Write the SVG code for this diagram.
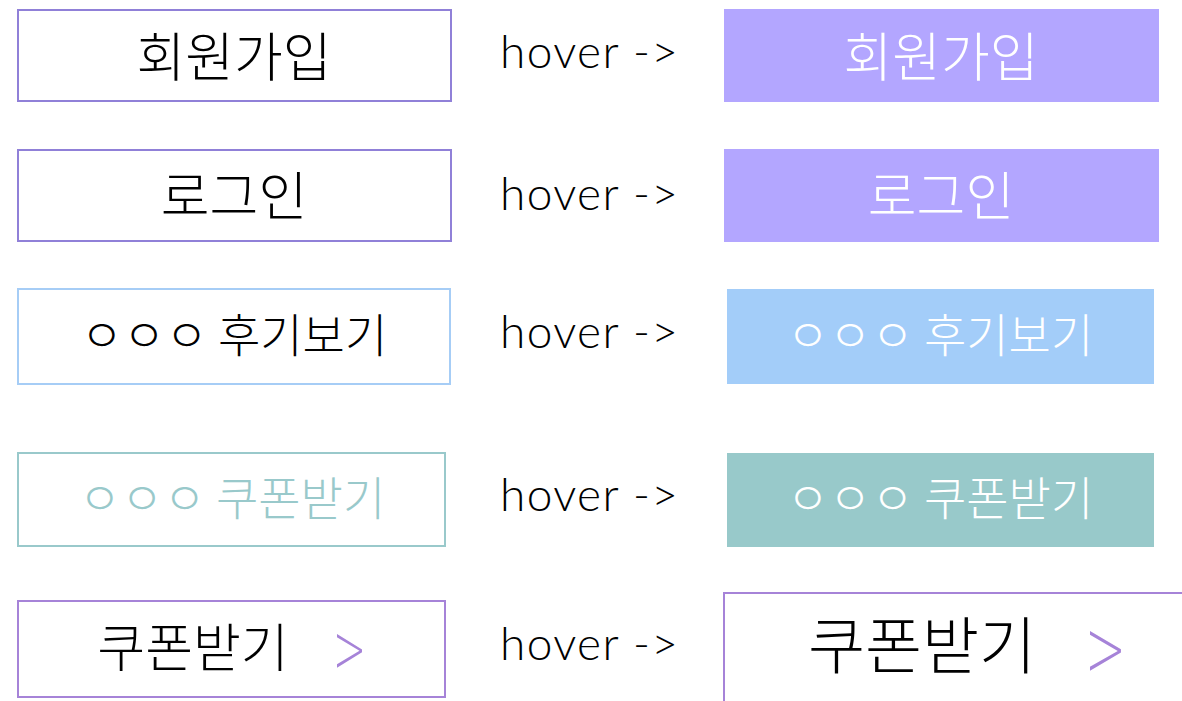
<svg xmlns="http://www.w3.org/2000/svg" width="1182" height="701" viewBox="0 0 1182 701">
<style>
.ko{font-family:"Noto Sans CJK KR","Noto Sans",sans-serif;font-weight:300;text-anchor:middle}
.hv{font-family:Lato,"Liberation Sans",sans-serif;font-weight:300;font-size:46px;fill:#000}
.gt{font-family:"DejaVu Sans",sans-serif;font-weight:200;fill:#a683d8;text-anchor:middle}
.box{fill:#fff;stroke-width:2}
</style>
<rect width="1182" height="701" fill="#fff"/>
<g id="row1-normal">
<rect class="box" x="18" y="10" width="433" height="91" stroke="#9080d8"/>
<text class="ko" x="234" y="77" font-size="53" fill="#000">회원가입</text>
</g>
<g id="row1-hover">
<rect x="724" y="9" width="435" height="93" fill="#b3a6ff"/>
<text class="ko" x="941" y="77" font-size="53" fill="#fff">회원가입</text>
</g>
<g id="row2-normal">
<rect class="box" x="18" y="150" width="433" height="91" stroke="#9080d8"/>
<text class="ko" x="234" y="216" font-size="53" fill="#000">로그인</text>
</g>
<g id="row2-hover">
<rect x="724" y="149" width="435" height="93" fill="#b3a6ff"/>
<text class="ko" x="941" y="216" font-size="53" fill="#fff">로그인</text>
</g>
<g id="row3-normal">
<rect class="box" x="18" y="289" width="432" height="95" stroke="#a6cdf6"/>
<text class="ko" x="234" y="352" font-size="46" fill="#000">ㅇㅇㅇ 후기보기</text>
</g>
<g id="row3-hover">
<rect x="727" y="289" width="427" height="95" fill="#a3cdf9"/>
<text class="ko" x="940" y="352" font-size="46" fill="#fff">ㅇㅇㅇ 후기보기</text>
</g>
<g id="row4-normal">
<rect class="box" x="18" y="453" width="427" height="93" stroke="#99c9cb"/>
<text class="ko" x="232" y="515" font-size="46" fill="#99c9cb">ㅇㅇㅇ 쿠폰받기</text>
</g>
<g id="row4-hover">
<rect x="727" y="453" width="427" height="94" fill="#98c9ca"/>
<text class="ko" x="940" y="515" font-size="46" fill="#fff">ㅇㅇㅇ 쿠폰받기</text>
</g>
<g id="row5-normal">
<rect class="box" x="18" y="601" width="427" height="96" stroke="#a683d8"/>
<text class="ko" x="193" y="667" font-size="52" fill="#000">쿠폰받기</text>
<text class="gt" transform="translate(349.5,647.5) scale(0.8,1.35)" x="0" y="18" font-size="50">&gt;</text>
</g>
<g id="row5-hover">
<rect class="box" x="724" y="593" width="470" height="120" stroke="#a683d8"/>
<text class="ko" x="922" y="669" font-size="62" fill="#000">쿠폰받기</text>
<text class="gt" transform="translate(1105.5,647) scale(0.95,1.55)" x="0" y="19" font-size="52">&gt;</text>
</g>
<g id="connectors">
<text class="hv" x="500" y="68" textLength="178">hover -&gt;</text>
<text class="hv" x="500" y="210" textLength="178">hover -&gt;</text>
<text class="hv" x="500" y="348" textLength="178">hover -&gt;</text>
<text class="hv" x="500" y="511" textLength="178">hover -&gt;</text>
<text class="hv" x="500" y="660" textLength="178">hover -&gt;</text>
</g>
</svg>
